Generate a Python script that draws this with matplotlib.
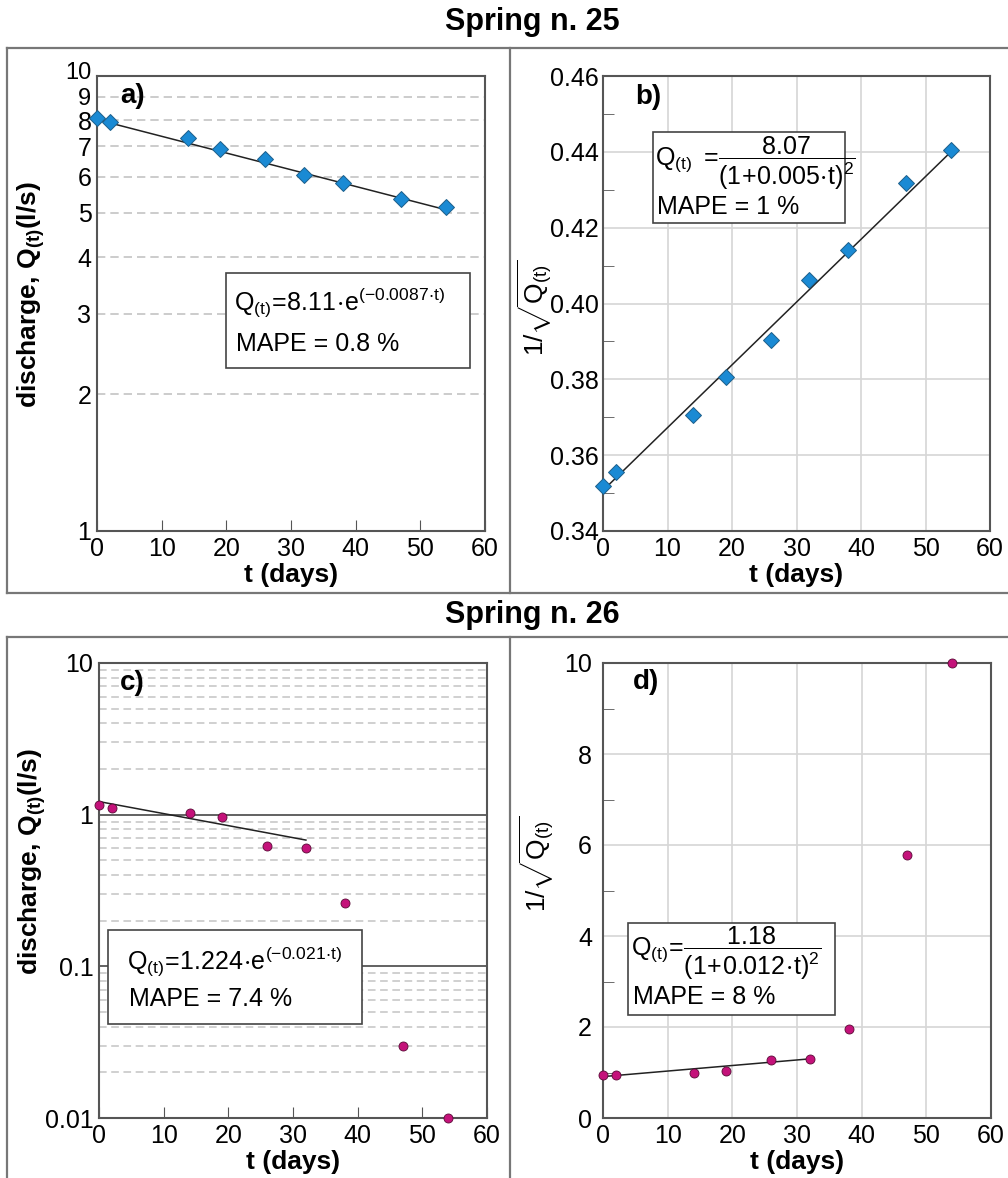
import matplotlib
matplotlib.use('Agg')
import matplotlib.pyplot as plt
import matplotlib.transforms as mtransforms
from matplotlib.lines import Line2D
from matplotlib.patches import Rectangle
from matplotlib.ticker import FixedLocator, NullFormatter
import numpy as np

plt.rcParams['font.family'] = ['Liberation Sans', 'DejaVu Sans']
plt.rcParams['mathtext.fontset'] = 'custom'
plt.rcParams['mathtext.rm'] = 'Liberation Sans'
plt.rcParams['mathtext.it'] = 'Liberation Sans'
plt.rcParams['mathtext.bf'] = 'Liberation Sans:bold'

# spring n. 25
t_25 = [0, 2, 14, 19, 26, 32, 38, 47, 54]
q_25 = [8.08, 7.91, 7.29, 6.92, 6.56, 6.07, 5.83, 5.36, 5.15]
inv_25 = [0.3518, 0.3556, 0.3706, 0.3807, 0.3904, 0.4062, 0.4141, 0.4319, 0.4406]
fit_t_25 = [0, 54]
fit_q_25 = [8.02, 5.08]
fit_inv_25 = [0.3507, 0.4401]

# spring n. 26
t_26 = [0, 2, 14, 19, 26, 32, 38, 47, 54]
q_26 = [1.15, 1.11, 1.02, 0.97, 0.62, 0.605, 0.26, 0.030, 0.010]
inv_26 = [0.94, 0.945, 0.99, 1.03, 1.28, 1.30, 1.96, 5.78, 10.0]
fit_t_26 = [0, 32]
fit_q_26 = [1.22, 0.68]
fit_inv_26 = [0.91, 1.30]

x_ticks = [0, 10, 20, 30, 40, 50, 60]

W, H = 1008, 1178
fig = plt.figure(figsize=(W / 100, H / 100), dpi=100)

SPINE = '#555555'
BLUE = '#1a8ad4'
MAG = '#c4127a'
TICK_FS = 18
LAB_FS = 19


def add_ax(l, r, t, b):
    ax = fig.add_axes([l / W, 1 - b / H, (r - l) / W, (b - t) / H])
    ax._px = (l, r, t, b)
    for s in ax.spines.values():
        s.set_color(SPINE)
        s.set_linewidth(1.5)
    ax.set_xlim(0, 60)
    ax.set_xticks(x_ticks)
    ax.set_xticklabels([str(v) for v in x_ticks], fontsize=TICK_FS)
    ax.set_xlabel('t (days)', fontsize=LAB_FS, fontweight='bold')
    ax.xaxis.set_label_coords(0.5, -0.07)
    ax.set_axisbelow(True)
    return ax


def fx(ax, x):
    l, r, t, b = ax._px
    return (x - l) / (r - l)


def fy(ax, y):
    l, r, t, b = ax._px
    return (b - y) / (b - t)


def eq_box(ax, box, lines):
    x0, x1, y0, y1 = box
    ax.add_patch(Rectangle((fx(ax, x0), fy(ax, y1)), fx(ax, x1) - fx(ax, x0),
                           fy(ax, y0) - fy(ax, y1), transform=ax.transAxes,
                           facecolor='white', edgecolor='#444444', lw=1.2, zorder=4))
    for (tx, ty, s) in lines:
        ax.text(fx(ax, tx), fy(ax, ty), s, transform=ax.transAxes, fontsize=18,
                ha='left', va='center', zorder=5)


# frames and titles
fl = dict(color='#777777', lw=1.6)
for y in (48, 593, 637):
    fig.add_artist(Line2D([7 / W, 1], [1 - y / H, 1 - y / H], **fl))
fig.add_artist(Line2D([7 / W, 7 / W], [1 - 48 / H, 1 - 593 / H], **fl))
fig.add_artist(Line2D([510 / W, 510 / W], [1 - 48 / H, 1 - 593 / H], **fl))
fig.add_artist(Line2D([7 / W, 7 / W], [1 - 637 / H, 0], **fl))
fig.add_artist(Line2D([510 / W, 510 / W], [1 - 637 / H, 0], **fl))
fig.text(532 / W, 1 - 22 / H, 'Spring n. 25', ha='center', va='center',
         fontsize=22, fontweight='bold')
fig.text(532 / W, 1 - 615 / H, 'Spring n. 26', ha='center', va='center',
         fontsize=22, fontweight='bold')

# a)
ax = add_ax(97, 485, 76, 531)
ax.set_yscale('log')
ax.set_ylim(1, 10)
yt = [1, 2, 3, 4, 5, 6, 7, 8, 9, 10]
ax.yaxis.set_major_locator(FixedLocator(yt))
ax.yaxis.set_minor_locator(FixedLocator([]))
ax.set_yticklabels([str(v) for v in yt], fontsize=TICK_FS)
ax.tick_params(axis='y', length=0, pad=4)
ax.tick_params(axis='x', direction='in', length=8, color=SPINE, pad=4)
# the "10" label sits a little higher so it clears the "9"
lab10 = ax.get_yticklabels()[-1]
lab10.set_transform(lab10.get_transform() +
                    mtransforms.ScaledTranslation(0, 4 / 72, fig.dpi_scale_trans))
lab10.set_fontsize(17)
ax.get_yticklabels()[-2].set_fontsize(17)
ax.yaxis.grid(True, ls=(0, (5, 3)), color='#c4c4c4', lw=1.2)
ax.plot(fit_t_25, fit_q_25, color='#222222', lw=1.1, zorder=3)
ax.plot(t_25, q_25, ls='none', marker='D', ms=8.5, mfc=BLUE, mec='#1d5f8a',
        mew=0.7, zorder=4, clip_on=False)
ax.set_ylabel(r'discharge, $\mathregular{Q_{(t)}}$(l/s)', fontsize=LAB_FS,
              fontweight='bold')
ax.yaxis.set_label_coords(-0.128, 0.52)
ax.text(fx(ax, 120), fy(ax, 96), 'a)', transform=ax.transAxes, fontsize=20,
        fontweight='bold', ha='left', va='center')
eq_box(ax, (226, 470, 273, 368),
       [(234, 302, r'$\mathregular{Q_{(t)}\!=\!8.11\!\cdot\! e^{(-0.0087\!\cdot\! t)}}$'),
        (236, 344, 'MAPE = 0.8 %')])

# b)
ax = add_ax(603, 990, 76, 531)
ax.set_ylim(0.34, 0.46)
yt = [0.34, 0.36, 0.38, 0.40, 0.42, 0.44, 0.46]
ax.set_yticks(yt)
ax.set_yticklabels(['%.2f' % v for v in yt], fontsize=TICK_FS)
ax.yaxis.set_minor_locator(FixedLocator([0.35, 0.37, 0.39, 0.41, 0.43, 0.45]))
ax.tick_params(axis='y', which='major', length=0, pad=3)
ax.tick_params(axis='y', which='minor', direction='in', length=8, color=SPINE)
ax.tick_params(axis='x', length=0, pad=4)
ax.grid(True, which='major', color='#d6d6d6', lw=1.2)
ax.plot(fit_t_25, fit_inv_25, color='#222222', lw=1.1, zorder=3)
ax.plot(t_25, inv_25, ls='none', marker='D', ms=8.5, mfc=BLUE, mec='#1d5f8a',
        mew=0.7, zorder=4, clip_on=False)
ax.set_ylabel(r'$\mathregular{1/\sqrt{Q_{(t)}}}$', fontsize=LAB_FS)
ax.yaxis.set_label_coords(-0.125, 0.49)
ax.text(fx(ax, 635), fy(ax, 97), 'b)', transform=ax.transAxes, fontsize=20,
        fontweight='bold', ha='left', va='center')
eq_box(ax, (653, 845, 132, 223),
       [(655, 163, r'$\mathregular{Q_{(t)}\ =\!\dfrac{8.07}{(1\!+\!0.005\!\cdot\! t)^2}}$'),
        (657, 207, 'MAPE = 1 %')])

# c)
ax = add_ax(99, 487, 663, 1118)
ax.set_yscale('log')
ax.set_ylim(0.01, 10)
yt = [0.01, 0.1, 1, 10]
ax.yaxis.set_major_locator(FixedLocator(yt))
minors = [m * d for d in (0.01, 0.1, 1) for m in range(2, 10)]
ax.yaxis.set_minor_locator(FixedLocator(minors))
ax.yaxis.set_minor_formatter(NullFormatter())
ax.set_yticklabels(['0.01', '0.1', '1', '10'], fontsize=TICK_FS)
ax.tick_params(axis='y', which='both', length=0, pad=4)
ax.tick_params(axis='x', direction='in', length=8, color=SPINE, pad=4)
ax.yaxis.grid(True, which='minor', ls=(0, (5, 3)), color='#c4c4c4', lw=1.1)
ax.yaxis.grid(True, which='major', ls='-', color='#555555', lw=1.3)
ax.plot(fit_t_26, fit_q_26, color='#222222', lw=1.1, zorder=3)
ax.plot(t_26, q_26, ls='none', marker='o', ms=6.5, mfc=MAG, mec='#5a0a36',
        mew=0.6, zorder=6, clip_on=False)
ax.set_ylabel(r'discharge, $\mathregular{Q_{(t)}}$(l/s)', fontsize=LAB_FS,
              fontweight='bold')
ax.yaxis.set_label_coords(-0.131, 0.563)
ax.text(fx(ax, 120), fy(ax, 683), 'c)', transform=ax.transAxes, fontsize=20,
        fontweight='bold', ha='left', va='center')
eq_box(ax, (108, 362, 930, 1024),
       [(127, 961, r'$\mathregular{Q_{(t)}\!=\!1.224\!\cdot\! e^{(-0.021\!\cdot\! t)}}$'),
        (129, 999, 'MAPE = 7.4 %')])

# d)
ax = add_ax(603, 991, 663, 1118)
ax.set_ylim(0, 10)
yt = [0, 2, 4, 6, 8, 10]
ax.set_yticks(yt)
ax.set_yticklabels([str(v) for v in yt], fontsize=TICK_FS)
ax.yaxis.set_minor_locator(FixedLocator([1, 3, 5, 7, 9]))
ax.tick_params(axis='y', which='major', length=0, pad=8)
ax.tick_params(axis='y', which='minor', direction='in', length=8, color=SPINE)
ax.tick_params(axis='x', length=0, pad=4)
ax.grid(True, which='major', color='#d6d6d6', lw=1.2)
ax.plot(fit_t_26, fit_inv_26, color='#222222', lw=1.1, zorder=3)
ax.plot(t_26, inv_26, ls='none', marker='o', ms=6.5, mfc=MAG, mec='#5a0a36',
        mew=0.6, zorder=6, clip_on=False)
ax.set_ylabel(r'$\mathregular{1/\sqrt{Q_{(t)}}}$', fontsize=LAB_FS)
ax.yaxis.set_label_coords(-0.119, 0.558)
ax.text(fx(ax, 633), fy(ax, 682), 'd)', transform=ax.transAxes, fontsize=20,
        fontweight='bold', ha='left', va='center')
eq_box(ax, (628, 835, 923, 1015),
       [(631, 953, r'$\mathregular{Q_{(t)}\!=\!\dfrac{1.18}{(1\!+\!0.012\!\cdot\! t)^2}}$'),
        (633, 997, 'MAPE = 8 %')])

fig.savefig('out.png', dpi=100)
